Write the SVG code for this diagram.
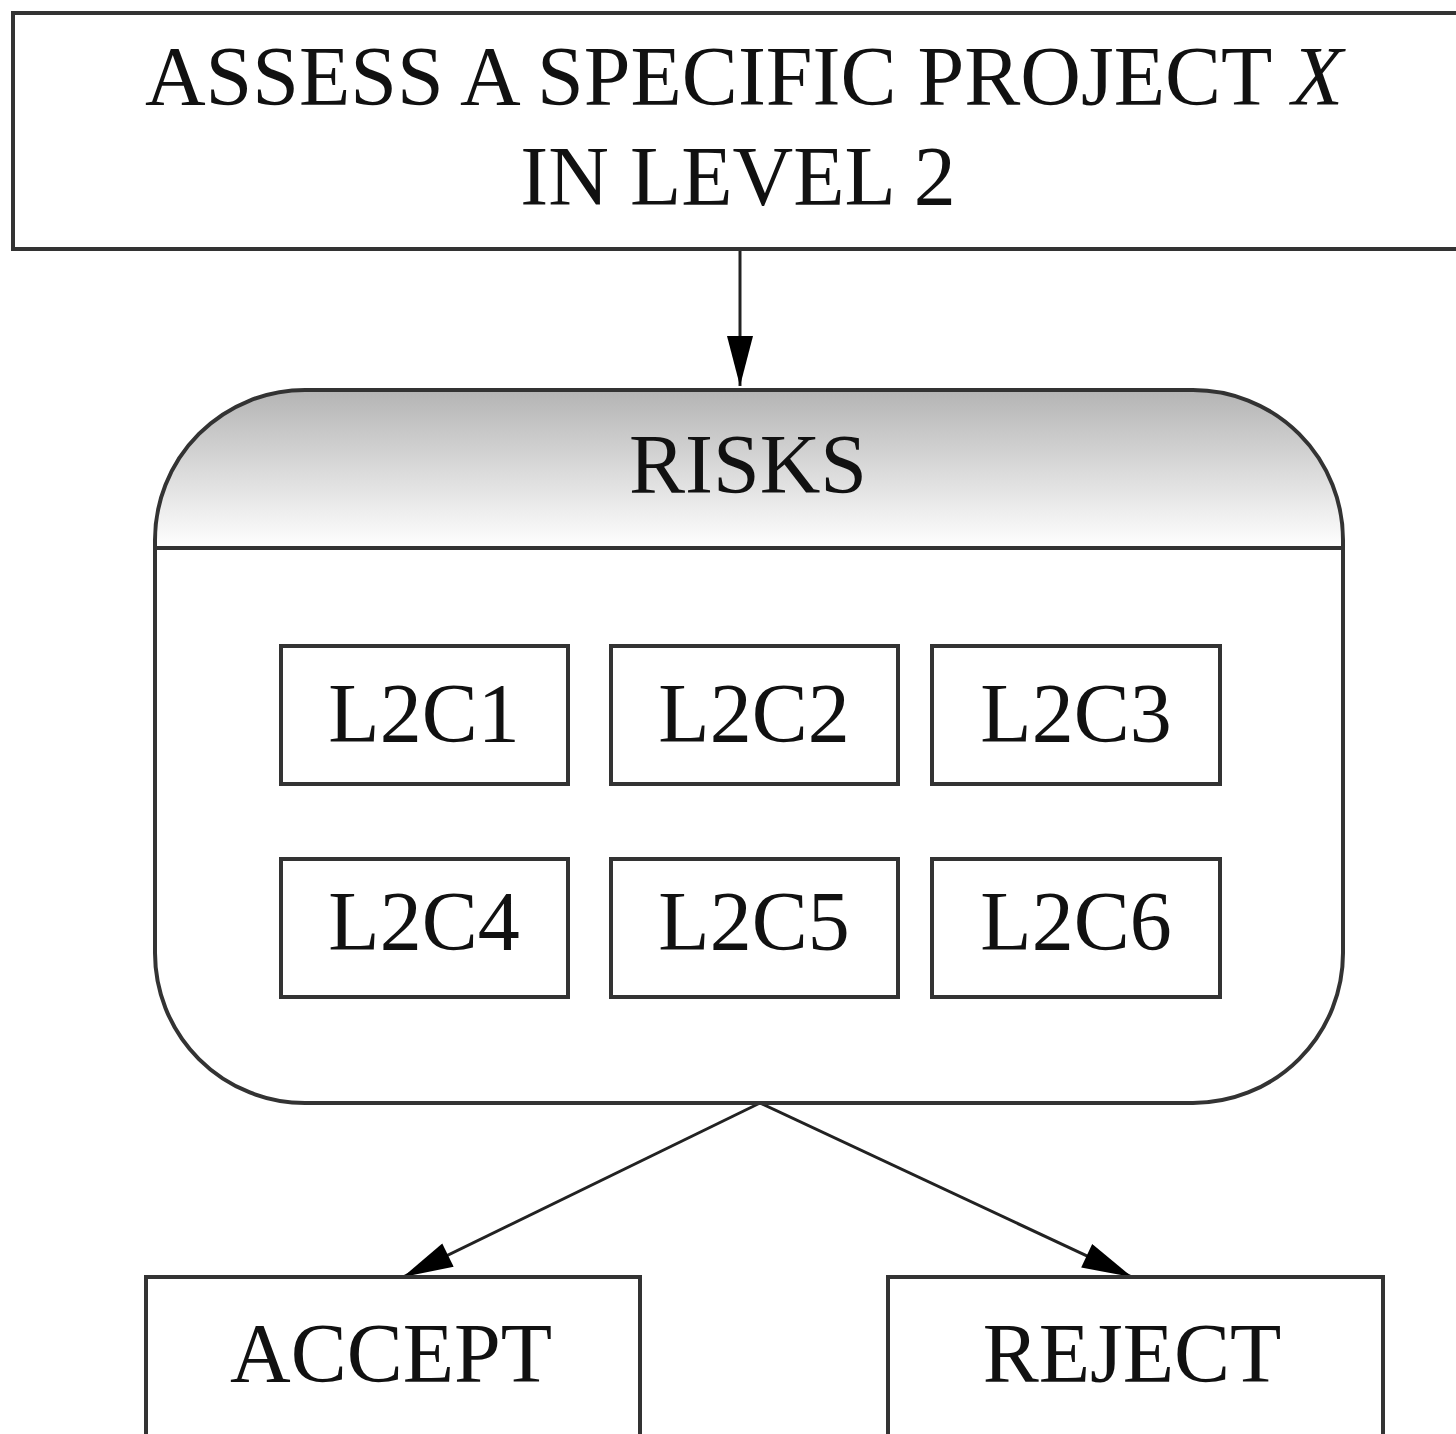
<svg xmlns="http://www.w3.org/2000/svg" width="1456" height="1434" viewBox="0 0 1456 1434">
<style>
.box{fill:#fff;stroke:#333;stroke-width:4}
.t{font-family:"Liberation Serif","Times New Roman",serif;font-size:84px;fill:#111;text-anchor:middle}
.c{stroke:#222;stroke-width:3;fill:none}
</style>
<defs>
<linearGradient id="hg" x1="0" y1="0" x2="0" y2="1">
<stop offset="0" stop-color="#b4b4b4"/>
<stop offset="1" stop-color="#ffffff"/>
</linearGradient>
<marker id="ah" viewBox="0 0 20 20" refX="20" refY="10" markerWidth="20" markerHeight="20" markerUnits="userSpaceOnUse" orient="auto">
<path d="M0,0 L20,10 L0,20 Z" fill="#000"/>
</marker>
<marker id="ah2" viewBox="0 0 50 26" refX="50" refY="13" markerWidth="52" markerHeight="26" markerUnits="userSpaceOnUse" orient="auto">
<path d="M0,0 L50,13 L0,26 Z" fill="#000"/>
</marker>
</defs>
<rect width="1456" height="1434" fill="#fff"/>
<g id="connectors">
<line class="c" x1="740" y1="250" x2="740" y2="386" marker-end="url(#ah2)"/>
<line class="c" x1="760" y1="1103" x2="403" y2="1277" marker-end="url(#ah2)"/>
<line class="c" x1="760" y1="1103" x2="1132" y2="1277" marker-end="url(#ah2)"/>
</g>
<g id="assess">
<rect class="box" x="13" y="13" width="1460" height="236"/>
<text class="t" x="744" y="105">ASSESS A SPECIFIC PROJECT <tspan font-style="italic">X</tspan></text>
<text class="t" x="738" y="205">IN LEVEL 2</text>
</g>
<g id="risks">
<path d="M155,548 L155,540 A150,150 0 0 1 305,390 L1193,390 A150,150 0 0 1 1343,540 L1343,548 Z" fill="url(#hg)"/>
<rect x="155" y="390" width="1188" height="713" rx="150" ry="150" fill="none" stroke="#333" stroke-width="4"/>
<line x1="155" y1="548" x2="1343" y2="548" stroke="#333" stroke-width="4"/>
<text class="t" x="748" y="493">RISKS</text>
</g>
<g id="l2c1"><rect class="box" x="281" y="646" width="287" height="138"/><text class="t" x="424" y="742">L2C1</text></g>
<g id="l2c2"><rect class="box" x="611" y="646" width="287" height="138"/><text class="t" x="754" y="742">L2C2</text></g>
<g id="l2c3"><rect class="box" x="932" y="646" width="288" height="138"/><text class="t" x="1076" y="742">L2C3</text></g>
<g id="l2c4"><rect class="box" x="281" y="859" width="287" height="138"/><text class="t" x="424" y="950">L2C4</text></g>
<g id="l2c5"><rect class="box" x="611" y="859" width="287" height="138"/><text class="t" x="754" y="950">L2C5</text></g>
<g id="l2c6"><rect class="box" x="932" y="859" width="288" height="138"/><text class="t" x="1076" y="950">L2C6</text></g>
<g id="accept"><rect class="box" x="146" y="1277" width="494" height="170"/><text class="t" x="391" y="1382">ACCEPT</text></g>
<g id="reject"><rect class="box" x="888" y="1277" width="495" height="170"/><text class="t" x="1132" y="1382">REJECT</text></g>
</svg>
